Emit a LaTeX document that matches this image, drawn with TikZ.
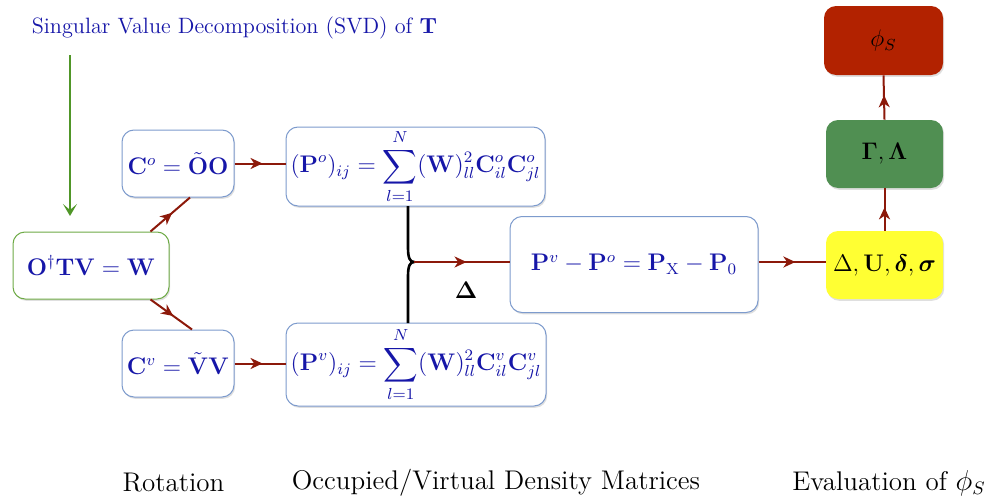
\documentclass[tikz,border=0pt]{standalone}
\usepackage{amsmath,bm}
\usetikzlibrary{arrows.meta,decorations.markings,shadows,calc}
\definecolor{txtblue}{RGB}{22,22,168}
\definecolor{bordblue}{RGB}{125,155,205}
\definecolor{bordgreen}{RGB}{110,170,70}
\definecolor{arrred}{RGB}{140,25,10}
\definecolor{arrgreen}{RGB}{80,150,40}
\definecolor{fillred}{RGB}{178,34,0}
\definecolor{fillgreen}{RGB}{80,143,82}
\definecolor{fillyellow}{RGB}{255,255,51}
\newcommand{\myWtext}{$\mathbf{O}^{\dagger}\mathbf{T}\mathbf{V}=\mathbf{W}$}
\newcommand{\myCotext}{$\mathbf{C}^{o}=\tilde{\mathbf{O}}\mathbf{O}$}
\newcommand{\myCvtext}{$\mathbf{C}^{v}=\tilde{\mathbf{V}}\mathbf{V}$}
\newcommand{\myPotext}{$\displaystyle (\mathbf{P}^{o})_{ij}=\sum_{l=1}^{N}(\mathbf{W})^{2}_{ll}\mathbf{C}^{o}_{il}\mathbf{C}^{o}_{jl}$}
\newcommand{\myPvtext}{$\displaystyle (\mathbf{P}^{v})_{ij}=\sum_{l=1}^{N}(\mathbf{W})^{2}_{ll}\mathbf{C}^{v}_{il}\mathbf{C}^{v}_{jl}$}
\newcommand{\myPdtext}{$\mathbf{P}^{v}-\mathbf{P}^{o}=\mathbf{P}_{\mathrm{X}}-\mathbf{P}_{0}$}
\newcommand{\myYetext}{$\Delta,\mathbf{U},\bm{\delta},\bm{\sigma}$}
\newcommand{\myGrtext}{$\bm{\Gamma},\bm{\Lambda}$}
\begin{document}
\begin{tikzpicture}[x=0.5pt,y=-0.5pt,
  shad/.style={drop shadow={opacity=0.25,shadow xshift=0.6pt,shadow yshift=-0.9pt}},
  box/.style={draw=bordblue, fill=white, rounded corners=6pt, line width=0.5pt,
    text=txtblue, font=\fontsize{12}{14}\selectfont, inner sep=0pt, shad},
  cbox/.style={rounded corners=6pt, text=black, font=\fontsize{11.5}{14}\selectfont,
    inner sep=0pt, minimum width=58.5pt, minimum height=34pt, shad},
  midarrow/.style={draw=arrred, line width=1pt,
    decoration={markings, mark=at position 0.55 with {\arrow{Stealth[length=6pt,width=5.5pt,inset=1.8pt]}}},
    postaction={decorate}},
  bracestyle/.style={draw=black, line width=1.3pt},
  lab/.style={text=black, font=\fontsize{13.5}{16}\selectfont, inner sep=0pt}
]
\useasboundingbox (0,0) rectangle (990,498);

% title and SVD arrow
\node[text=txtblue, font=\fontsize{11.1}{13}\selectfont, inner sep=0pt] (title) at (234.5,28)
  {Singular Value Decomposition (SVD) of $\mathbf{T}$};
\coordinate (s1) at (70,55);
\coordinate (s2) at (70,216);
\draw[draw=arrgreen, line width=1pt, -{Stealth[length=6pt,width=7pt,inset=3pt]}] (s1) -- (s2);

% boxes
\node[box, draw=bordgreen, minimum width=78pt, minimum height=33.5pt] (w) at (91,265.5) {\myWtext};
\node[box, font=\fontsize{11.5}{14}\selectfont, minimum width=56pt, minimum height=33.5pt] (co) at (178,163.5) {\myCotext};
\node[box, font=\fontsize{11.5}{14}\selectfont, minimum width=56pt, minimum height=33.5pt] (cv) at (178,363.5) {\myCvtext};
\node[box, minimum width=129.5pt, minimum height=39.5pt] (po) at (415.5,166.5) {\myPotext};
\node[box, minimum width=130pt, minimum height=41.5pt] (pv) at (416,364.5) {\myPvtext};
\node[box, font=\fontsize{11.5}{14}\selectfont, minimum width=124pt, minimum height=48pt] (pd) at (634,264.5) {\myPdtext};
\node[cbox, fill=fillyellow, font=\fontsize{12}{14}\selectfont] (ye) at (884.5,265) {\myYetext};
\node[cbox, fill=fillgreen] (gr) at (884.5,154) {\myGrtext};
\node[cbox, fill=fillred, minimum width=59.5pt, minimum height=34.5pt] (rd) at (883.5,40.5) {$\phi_S$};

% connectors
\draw[midarrow] ($(w.north east)+(-19,0)$) -- ($(co.south)+(12,0)$);
\draw[midarrow] ($(w.south east)+(-19,0)$) -- ($(cv.north)+(14,0)$);
\draw[midarrow] (co.east) -- (co.east -| po.west);
\draw[midarrow] (cv.east) -- (cv.east -| pv.west);

% brace
\coordinate (b1) at (408,206);
\coordinate (b2) at (408,323);
\coordinate (bt) at (414,262);
\draw[bracestyle] (b1) -- (408,248) .. controls (408,258) and (410,262) .. (bt)
  .. controls (410,262) and (408,266) .. (408,276) -- (b2);
\draw[midarrow] (bt) -- (bt -| pd.west);
\node[text=black, font=\fontsize{11.5}{13}\selectfont, inner sep=0pt] (dl) at (466,290) {$\bm{\Delta}$};

\draw[midarrow] (pd.east |- bt) -- (bt -| ye.west);
\draw[midarrow] (ye.north) -- (gr.south);
\draw[midarrow] (gr.north) -- (rd.south);

% bottom labels
\node[lab] (rot) at (173.5,483) {Rotation};
\node[lab] (occ) at (496,483) {Occupied/Virtual Density Matrices};
\node[lab] (eva) at (889,483) {Evaluation of $\phi_S$};
\end{tikzpicture}
\end{document}
